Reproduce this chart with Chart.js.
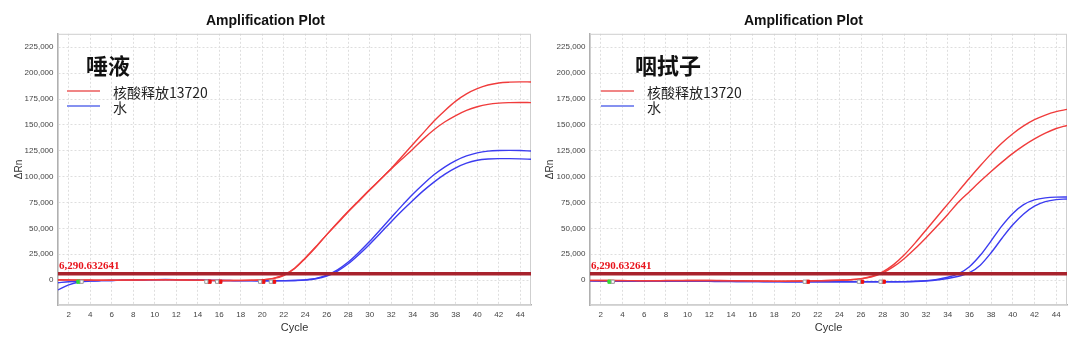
<!DOCTYPE html>
<html>
<head>
<meta charset="utf-8">
<script src="https://cdn.jsdelivr.net/npm/chart.js@4/dist/chart.umd.min.js"></script>
<style>
  html, body { margin: 0; padding: 0; background: #fff; }
  #wrap { width: 1080px; height: 343px; display: flex; }
  canvas { display: block; }
</style>
</head>
<body>
<div id="wrap">
  <canvas id="salivaChart" width="540" height="343"></canvas>
  <canvas id="swabChart" width="540" height="343"></canvas>
</div>
<script>
// Cycle numbers (x) and axis ticks
const cycles = [1, 2, 3, 4, 5, 6, 7, 8, 9, 10, 11, 12, 13, 14, 15, 16, 17, 18, 19, 20, 21, 22, 23, 24, 25, 26, 27, 28, 29, 30, 31, 32, 33, 34, 35, 36, 37, 38, 39, 40, 41, 42, 43, 44, 45];
const xTickLabels = [2, 4, 6, 8, 10, 12, 14, 16, 18, 20, 22, 24, 26, 28, 30, 32, 34, 36, 38, 40, 42, 44];
const yTickValues = [0, 25000, 50000, 75000, 100000, 125000, 150000, 175000, 200000, 225000];

const thresholdValue = 6290.632641;
const seriesNames = ['核酸释放13720', '水'];

// 唾液 (saliva) - delta Rn per cycle
const salivaRed1 = [400, 300, 200, 100, 0, 0, 100, 200, 300, 400, 400, 300, 200, 0, -200, -300, -300, -200, 0, 400, 1500, 4500, 11000, 21000, 32000, 44000, 55000, 66000, 76500, 87000, 97500, 108000, 119500, 131000, 142500, 154000, 164000, 173000, 180000, 185000, 188500, 190500, 191300, 191600, 191500];
const salivaRed2 = [200, 100, 0, 0, -100, -100, 0, 100, 200, 300, 300, 200, 100, 0, -200, -300, -400, -300, -100, 300, 1700, 5000, 11500, 21500, 32500, 44000, 55500, 66500, 77000, 87500, 97500, 107500, 117000, 126500, 136500, 145500, 153000, 159000, 164000, 167500, 169800, 171000, 171500, 171700, 171500];
const salivaBlue1 = [-9500, -4500, -1800, -900, -500, -300, -100, 100, 300, 500, 600, 500, 300, 100, -100, -300, -400, -500, -500, -600, -600, -500, -300, 300, 1700, 4800, 10000, 17500, 27000, 37500, 49000, 60500, 72000, 83000, 93000, 102000, 109500, 115500, 120000, 123000, 124700, 125300, 125400, 125200, 124800];
const salivaBlue2 = [-2500, -1600, -1000, -700, -500, -300, -100, 0, 200, 400, 500, 400, 200, 0, -200, -400, -500, -600, -600, -700, -700, -600, -400, 100, 1300, 4000, 8800, 15800, 24800, 34800, 45500, 56500, 67000, 77000, 86500, 95000, 102500, 108500, 113000, 115800, 117000, 117400, 117400, 117200, 116800];

// 咽拭子 (throat swab)
const swabRed1 = [-200, -300, -400, -400, -500, -500, -500, -400, -400, -300, -300, -300, -400, -500, -600, -700, -800, -900, -900, -800, -700, -500, -300, 0, 400, 1500, 3800, 8000, 15000, 24500, 36000, 48500, 61000, 73500, 86000, 98500, 110500, 122000, 132500, 141500, 149000, 155000, 159500, 162800, 165000];
const swabRed2 = [-300, -400, -400, -500, -500, -600, -600, -500, -500, -400, -400, -400, -500, -600, -700, -800, -900, -1000, -1000, -900, -800, -600, -400, -100, 300, 1200, 3200, 7000, 13000, 21000, 30500, 41000, 52000, 63500, 75500, 85500, 95500, 105000, 114000, 122500, 130000, 136500, 142000, 146500, 149500];
const swabBlue1 = [-600, -800, -900, -1000, -1000, -1000, -1000, -1000, -1000, -1000, -1100, -1100, -1200, -1200, -1300, -1300, -1400, -1400, -1500, -1500, -1500, -1500, -1500, -1600, -1600, -1600, -1600, -1600, -1500, -1400, -1100, -500, 700, 2800, 6300, 13000, 24000, 38000, 52500, 64500, 73000, 77500, 79500, 80200, 80300];
const swabBlue2 = [-700, -900, -1000, -1100, -1100, -1100, -1100, -1100, -1100, -1200, -1200, -1200, -1300, -1300, -1400, -1400, -1500, -1500, -1600, -1600, -1600, -1600, -1600, -1700, -1700, -1700, -1700, -1700, -1600, -1500, -1300, -800, 100, 1600, 3800, 7200, 14500, 26500, 40500, 53500, 64000, 71500, 75800, 77800, 78400];

// baseline / Ct markers (cycle positions)
const markY = -1500;
const salivaStartMarks = [2.9];
const salivaCtMarks = [15.1, 16.1, 20.1, 21.1];
const salivaOpenMarks = [3.2, 14.8, 15.8, 19.8, 20.8];
const swabStartMarks = [2.8];
const swabCtMarks = [21.1, 26.1, 28.1];
const swabOpenMarks = [3.1, 20.8, 25.8, 27.8];

Chart.defaults.font.family = "'Liberation Sans', Arial, sans-serif";

function toPoints(values) {
    return cycles.map((c, i) => ({ x: c, y: values[i] }));
}
function toMarks(list) {
    return list.map(c => ({ x: c, y: markY }));
}

// draws frame, threshold label, sample name and legend
const overlayPlugin = {
    id: 'overlay',
    beforeDatasetsDraw(chart) {
        const { ctx, chartArea } = chart;
        ctx.save();
        ctx.strokeStyle = '#cfcfcf';
        ctx.lineWidth = 1;
        ctx.strokeRect(chartArea.left + 0.5, chartArea.top + 0.5, chartArea.width - 1, chartArea.height - 1);
        ctx.restore();
    },
    afterDraw(chart, args, opts) {
        const { ctx, chartArea } = chart;
        const yScale = chart.scales.y;
        ctx.save();
        // threshold label
        ctx.fillStyle = '#e8141c';
        ctx.font = "bold 11px 'Liberation Serif', serif";
        ctx.textBaseline = 'alphabetic';
        ctx.textAlign = 'left';
        let ty = yScale.getPixelForValue(thresholdValue);
        ctx.fillText(thresholdValue.toLocaleString('en-US', { minimumFractionDigits: 6 }), chartArea.left + 1, ty - 5);

        // sample name
        ctx.fillStyle = '#111';
        ctx.font = "bold 22px 'Noto Sans CJK SC'";
        ctx.textBaseline = 'middle';
        ctx.fillText(opts.sample, opts.sampleX, 66);

        // legend
        const rows = [
            { color: '#f08585', y: 91, text: seriesNames[0] },
            { color: '#8591f0', y: 106, text: seriesNames[1] }
        ];
        rows.forEach(r => {
            ctx.strokeStyle = r.color;
            ctx.lineWidth = 2;
            ctx.beginPath();
            ctx.moveTo(opts.legendX, r.y);
            ctx.lineTo(opts.legendX + 33, r.y);
            ctx.stroke();
            ctx.fillStyle = '#222';
            ctx.font = "14px 'Noto Sans CJK SC'";
            ctx.fillText(r.text, opts.legendX + 46, r.y + 1.5);
        });
        ctx.restore();
    }
};

function makeChart(canvasId, setup) {
    const red = '#f03c3c';
    const blue = '#3c3cf0';
    const curve = (values, color) => ({
        data: toPoints(values),
        borderColor: color,
        borderWidth: 1.4,
        pointRadius: 0,
        cubicInterpolationMode: 'monotone',
        order: 2
    });
    const marks = (list, fill, edge) => ({
        data: toMarks(list),
        showLine: false,
        pointStyle: 'rect',
        pointRadius: 2.3,
        backgroundColor: fill,
        borderColor: edge,
        borderWidth: 1,
        order: -1
    });

    return new Chart(document.getElementById(canvasId), {
        type: 'line',
        data: {
            datasets: [
                curve(setup.red1, red),
                curve(setup.red2, red),
                curve(setup.blue1, blue),
                curve(setup.blue2, blue),
                {
                    // threshold
                    data: [{ x: 1, y: thresholdValue }, { x: 45, y: thresholdValue }],
                    borderColor: '#a8222c',
                    borderWidth: 3.5,
                    pointRadius: 0,
                    order: 0
                },
                marks(setup.open, '#ffffff', '#9a9a9a'),
                marks(setup.start, '#33dd33', '#33dd33'),
                marks(setup.ct, '#ee1111', '#ee1111')
            ]
        },
        options: {
            responsive: false,
            animation: false,
            layout: { padding: { left: 0, right: setup.padRight, top: 0, bottom: 0 } },
            plugins: {
                legend: { display: false },
                tooltip: { enabled: false },
                title: {
                    display: true,
                    text: 'Amplification Plot',
                    color: '#111',
                    font: { size: 14, weight: 'bold' },
                    padding: { top: 13, bottom: 4 }
                },
                overlay: { sample: setup.sample, sampleX: setup.sampleX, legendX: setup.legendX }
            },
            scales: {
                x: {
                    type: 'linear',
                    min: 1,
                    max: 45,
                    afterBuildTicks: scale => { scale.ticks = xTickLabels.map(v => ({ value: v })); },
                    afterFit: scale => { scale.height = 38; },
                    ticks: { font: { size: 8 }, color: '#444', padding: 5, maxRotation: 0, autoSkip: false },
                    grid: { color: '#dedede', drawTicks: false },
                    border: { color: '#b0b0b0', width: 1.5, dash: [2, 2] },
                    title: { display: true, text: 'Cycle', color: '#333', font: { size: 11 }, padding: { top: 0, bottom: 8 } }
                },
                y: {
                    type: 'linear',
                    min: -24000,
                    max: 238000,
                    afterBuildTicks: scale => { scale.ticks = yTickValues.map(v => ({ value: v })); },
                    afterFit: scale => { scale.width = setup.axisWidth; },
                    ticks: {
                        font: { size: 8 },
                        color: '#444',
                        padding: 4.5,
                        callback: v => v.toLocaleString('en-US')
                    },
                    grid: { color: '#dedede', drawTicks: false },
                    border: { color: '#b0b0b0', width: 1.5, dash: [2, 2] },
                    title: { display: true, text: 'ΔRn', color: '#333', font: { size: 10 }, padding: { top: setup.yTitlePad, bottom: 0 } }
                }
            }
        },
        plugins: [overlayPlugin]
    });
}

makeChart('salivaChart', {
    red1: salivaRed1, red2: salivaRed2, blue1: salivaBlue1, blue2: salivaBlue2,
    start: salivaStartMarks, ct: salivaCtMarks, open: salivaOpenMarks,
    sample: '唾液', sampleX: 86, legendX: 67,
    axisWidth: 58, padRight: 9, yTitlePad: 13
});
makeChart('swabChart', {
    red1: swabRed1, red2: swabRed2, blue1: swabBlue1, blue2: swabBlue2,
    start: swabStartMarks, ct: swabCtMarks, open: swabOpenMarks,
    sample: '咽拭子', sampleX: 95, legendX: 61,
    axisWidth: 50, padRight: 13, yTitlePad: 4
});
</script>
</body>
</html>
